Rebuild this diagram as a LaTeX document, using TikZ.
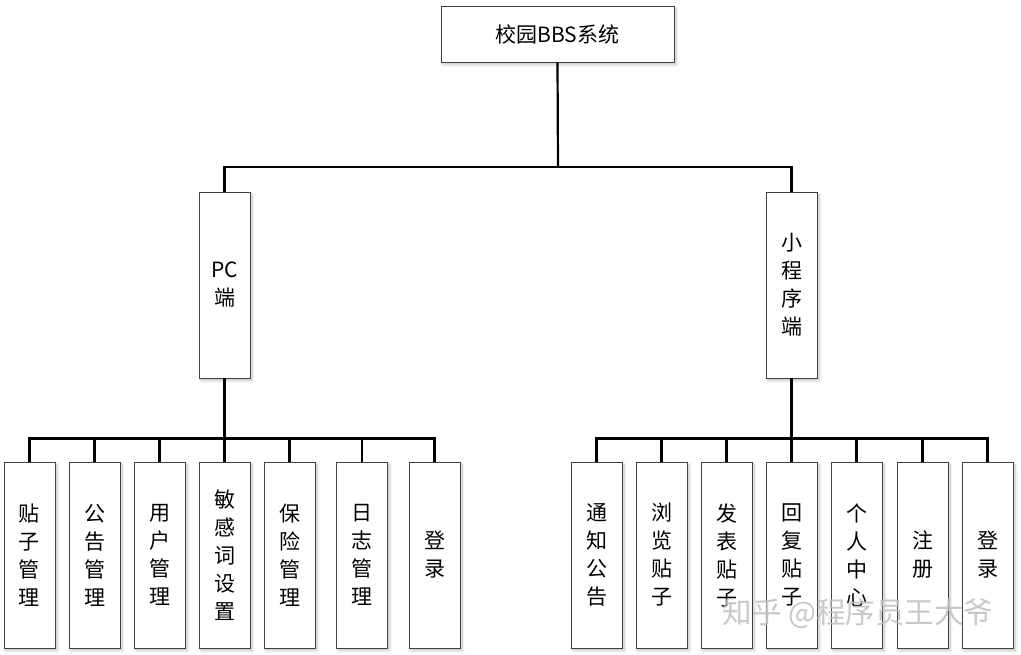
\documentclass[tikz,border=0pt]{standalone}
\usepackage{fontspec}
\setmainfont{Noto Sans CJK SC}
\usetikzlibrary{shadows.blur}
\tikzset{
  boxstyle/.style={draw=black!75, line width=0.9pt, fill=white, inner sep=0pt,
    align=center, font=\fontsize{21}{28}\selectfont,
    blur shadow={shadow xshift=2pt, shadow yshift=-2.5pt, shadow blur steps=6, shadow opacity=25, shadow blur radius=3pt}},
  leafbox/.style={boxstyle, minimum width=51pt, minimum height=186pt},
  midbox/.style={boxstyle, minimum width=51pt, minimum height=186pt},
  wire/.style={line width=2.2pt, black, line join=miter}
}
\begin{document}
\begin{tikzpicture}[x=1pt,y=-1pt]
\useasboundingbox (0,0) rectangle (1021,655);
\node[boxstyle, minimum width=233pt, minimum height=56pt] (root) at (557.5,34) {校园BBS系统};
\node[midbox] (pc) at (224.5,285) {PC\\端};
\node[midbox] (mp) at (791.5,285) {小\\程\\序\\端};

\coordinate (busT) at (558,167);
\coordinate (busL) at (224.5,438.5);
\coordinate (busR) at (791.5,438.5);

% left children
\node[leafbox] (l1) at (29.5,555) {贴\\子\\管\\理};
\node[leafbox] (l2) at (94.5,555) {公\\告\\管\\理};
\node[leafbox] (l3) at (159.5,555) {用\\户\\管\\理};
\node[leafbox] (l4) at (224.5,555) {敏\\感\\词\\设\\置};
\node[leafbox] (l5) at (289.5,555) {保\\险\\管\\理};
\node[leafbox] (l6) at (362,555) {日\\志\\管\\理};
\node[leafbox] (l7) at (434.5,555) {登\\录};

% right children
\node[leafbox] (r1) at (596.5,555) {通\\知\\公\\告};
\node[leafbox] (r2) at (661.5,555) {浏\\览\\贴\\子};
\node[leafbox] (r3) at (726.5,555) {发\\表\\贴\\子};
\node[leafbox] (r4) at (791.5,555) {回\\复\\贴\\子};
\node[leafbox] (r5) at (856.5,555) {个\\人\\中\\心};
\node[leafbox] (r6) at (922.5,555) {注\\册};
\node[leafbox] (r7) at (987.5,555) {登\\录};

\draw[wire] (root.south) -- (busT);
\draw[wire] (pc.north) |- (busT);
\draw[wire] (mp.north) |- (busT);
\draw[wire] (pc.south) -- (busL);
\draw[wire] (mp.south) -- (busR);
\foreach \n in {l1,l2,l3,l4,l5,l6,l7} { \draw[wire] (\n.north) |- (busL); }
\foreach \n in {r1,r2,r3,r4,r5,r6,r7} { \draw[wire] (\n.north) |- (busR); }

\node[text=black!25, opacity=0.85, font=\fontsize{29.5}{32}\selectfont, inner sep=0pt] (wm) at (858,614) {知乎 @程序员王大爷};
\end{tikzpicture}
\end{document}
